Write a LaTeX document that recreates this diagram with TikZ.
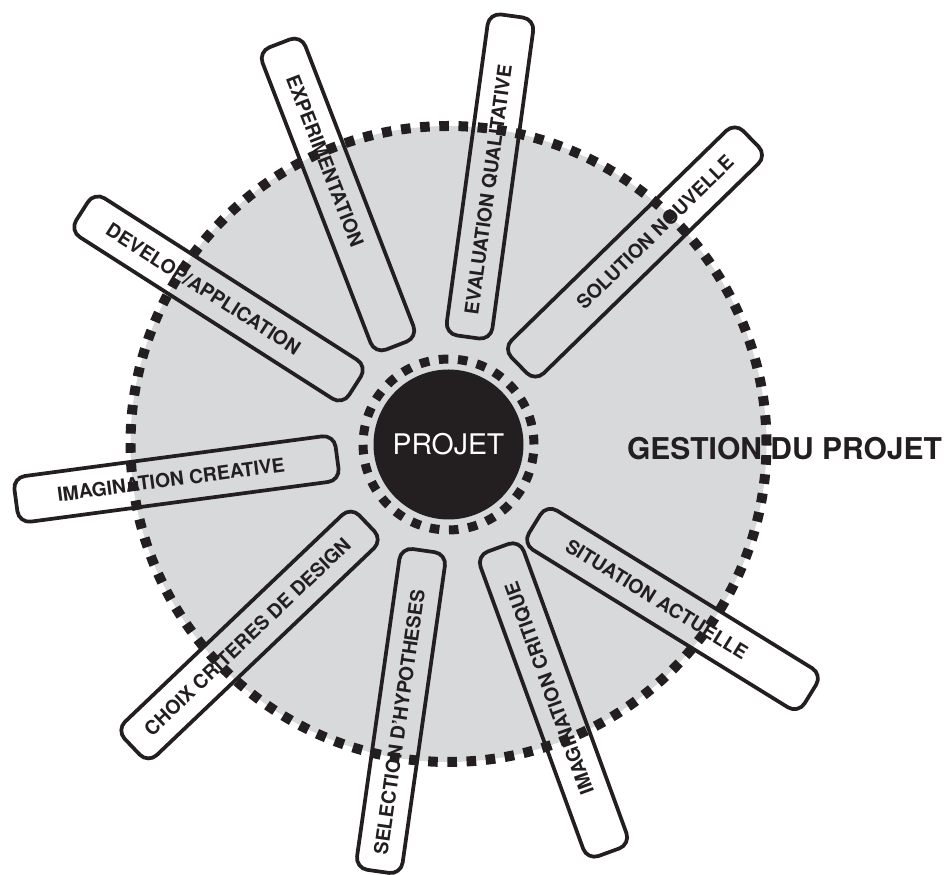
\documentclass[tikz,border=0pt]{standalone}
\usepackage{fontspec}
\setmainfont{TeX Gyre Heros}
\usetikzlibrary{positioning,calc}
\definecolor{ink}{RGB}{35,31,32}
\definecolor{disc}{RGB}{216,217,219}

\begin{document}
\begin{tikzpicture}[x=0.75pt, y=0.75pt,
    petal/.style={rectangle, rounded corners=9pt, draw=ink, line width=2.8pt,
        minimum width=243pt, minimum height=34.5pt, inner sep=0pt},
    petaltext/.style={text=ink, font=\fontsize{14.5}{16}\selectfont\bfseries,
        inner sep=0pt, text height=10.4pt, text depth=0pt},
    ring/.style={draw=ink, dash pattern=on 7.2pt off 7.2pt},
]
    \useasboundingbox (0,0) rectangle (951,875);

    % grey field
    \fill[disc] (448.5,431) circle (238.5pt);

    % petals
    \node [petal, rotate=-68.9] (pexp) at (338,680.5) {};
    \node [petaltext, rotate=-68.9] (texp) at ($(pexp.center)!-27pt!(pexp.east)$) {EXPERIMENTATION};
    \node [petal, rotate=82.2] (peval) at (490,698.5) {};
    \node [petaltext, rotate=82.2] (teval) at ($(peval.center)!-9.75pt!(peval.east)$) {EVALUATION QUALITATIVE};
    \node [petal, rotate=44.3] (psol) at (635,623) {};
    \node [petaltext, rotate=44.3] (tsol) at ($(psol.center)!21pt!(psol.east)$) {SOLUTION NOUVELLE};
    \node [petal, rotate=-31.7] (psit) at (672.5,266) {};
    \node [petaltext, rotate=-31.7] (tsit) at ($(psit.center)!-13.9pt!(psit.east)$) {SITUATION ACTUELLE};
    \node [petal, rotate=110] (pcrit) at (553.5,175) {};
    \node [petaltext, rotate=110] (tcrit) at ($(pcrit.center)!9.4pt!(pcrit.east)$) {IMAGINATION CRITIQUE};
    \node [petal, rotate=81.9] (psel) at (401,164) {};
    \node [petaltext, rotate=81.9] (tsel) at ($(psel.center)!-8.6pt!(psel.east)$) {SELECTION D'HYPOTHESES};
    \node [petal, rotate=43.6] (pchoix) at (249.5,240) {};
    \node [petaltext, rotate=43.6] (tchoix) at ($(pchoix.center)!-2.2pt!(pchoix.east)$) {CHOIX CRITERES DE DESIGN};
    \node [petal, rotate=7.6] (pcrea) at (176.5,396) {};
    \node [petaltext, rotate=7.6] (tcrea) at ($(pcrea.center)!-4.2pt!(pcrea.east)$) {IMAGINATION CREATIVE};
    \node [petal, rotate=-32.6] (pdev) at (218.5,576.5) {};
    \node [petaltext, rotate=-32.6] (tdev) at ($(pdev.center)!-13.5pt!(pdev.east)$) {DEVELOP/APPLICATION};

    % dashed rim over the petals
    \draw[ring, line width=7.5pt] (448.5,431) circle (238.5pt);

    % centre
    \node [circle, fill=ink, minimum size=112.5pt, inner sep=0pt, text=white,
        font=\fontsize{21.3}{24}\selectfont] (core) at (448.5,430.5) {PROJET};
    \draw[ring, line width=6.75pt] (core.center) circle (64.1pt);

    \node [text=ink, font=\fontsize{22.5}{26}\selectfont\bfseries] (gestion) at (784.5,426.5) {GESTION DU PROJET};
\end{tikzpicture}
\end{document}
